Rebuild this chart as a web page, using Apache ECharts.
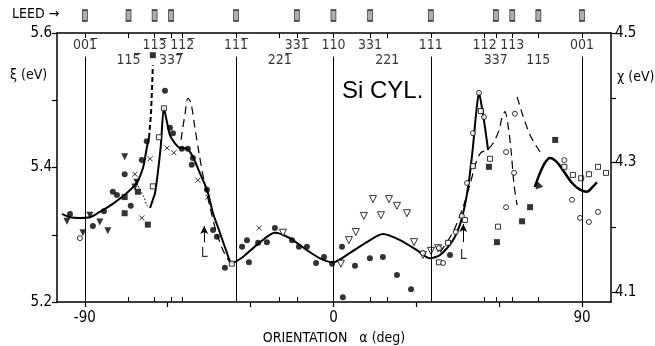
<!DOCTYPE html>
<html>
<head>
<meta charset="utf-8">
<script src="https://cdn.jsdelivr.net/npm/echarts@6/dist/echarts.min.js"></script>
<style>
  html, body { margin: 0; padding: 0; background: #fff; }
  #chart { width: 655px; height: 346px; }
</style>
</head>
<body>
<div id="chart"></div>
<script>
// crystal directions in the zone, angle from [110] (deg)
const dirAngles = [-90, -74.2, -64.76, -58.8, -54.74, -35.26, -19.47, -13.26, 0, 13.26, 19.47, 35.26, 54.74, 58.8, 64.76, 74.2, 90]
const leedAngles = [-90, -74.2, -64.76, -58.8, -35.26, -13.26, 0, 13.26, 35.26, 58.8, 64.76, 74.2, 90]
const row1Angles = [-90, -64.76, -54.74, -35.26, -13.26, 0, 13.26, 35.26, 54.74, 64.76, 90]
const row1Names = ['001\u0305', '113\u0305', '112\u0305', '111\u0305', '331\u0305', '110', '331', '111', '112', '113', '001']
const row2Angles = [-74.2, -58.8, -19.47, 19.47, 58.8, 74.2]
const row2Names = ['115\u0305', '337\u0305', '221\u0305', '221', '337', '115']
const lineAngles = [-90, -35.26, 0, 35.26, 90]

const xTicks = [-90, -60, -30, 0, 30, 60, 90]
const xLabels = [-90, 0, 90]
const xiTicks = [5.2, 5.3, 5.4, 5.5, 5.6]
const xiLabels = [5.2, 5.4, 5.6]
const chiTicks = [4.1, 4.2, 4.3, 4.4, 4.5]
const chiLabels = [4.1, 4.3, 4.5]

// curves [angle, xi]
const curveLeft = [[-98.3, 5.331], [-95.4, 5.326], [-91.8, 5.325], [-88.2, 5.326], [-84.6, 5.334], [-79.9, 5.346], [-74.8, 5.362], [-71.2, 5.378], [-69.0, 5.399], [-67.6, 5.429], [-66.8, 5.444]]
const curveLeftDash = [[-66.8, 5.444], [-66.1, 5.478], [-65.7, 5.515], [-65.4, 5.552]]
const curveDotted = [[-71.2, 5.377], [-70.0, 5.367], [-68.5, 5.355], [-67.6, 5.344], [-66.4, 5.340]]
const curveMain = [[-66.4, 5.340], [-65.4, 5.352], [-64.6, 5.362], [-63.6, 5.392], [-62.5, 5.433], [-61.4, 5.488], [-60.3, 5.468], [-59.2, 5.448], [-57.4, 5.436], [-55.6, 5.429], [-53.1, 5.428], [-50.9, 5.416], [-48.4, 5.392], [-45.8, 5.367], [-43.6, 5.332], [-41.1, 5.303], [-38.9, 5.277], [-36.8, 5.258], [-32.8, 5.267], [-27.7, 5.285], [-21.2, 5.303], [-15.8, 5.295], [-9.6, 5.277], [-4.9, 5.265], [-0.2, 5.259], [6.0, 5.273], [12.1, 5.289], [17.9, 5.301], [24.1, 5.292], [30.2, 5.277], [34.9, 5.265], [38.6, 5.270], [43.3, 5.292], [45.8, 5.315], [47.6, 5.344], [49.1, 5.381], [50.5, 5.430], [51.6, 5.478], [52.7, 5.511], [53.8, 5.488], [54.9, 5.459], [56.0, 5.426]]
const curveRight = [[72.9, 5.371], [74.8, 5.392], [76.6, 5.407], [78.4, 5.414], [80.9, 5.408], [83.1, 5.396], [86.4, 5.377], [89.3, 5.367], [91.8, 5.364], [93.6, 5.370], [95.4, 5.378]]
const dashL = [[-55.2, 5.441], [-53.7, 5.481], [-52.7, 5.503], [-51.6, 5.496], [-50.2, 5.460], [-48.7, 5.422], [-46.9, 5.381], [-44.7, 5.341], [-42.6, 5.307], [-40.0, 5.277], [-37.5, 5.259]]
const dashR = [[38.6, 5.274], [43.3, 5.304], [46.9, 5.341], [49.4, 5.374], [51.6, 5.407], [53.4, 5.422], [55.6, 5.426], [57.8, 5.436], [60.0, 5.456], [61.0, 5.474], [62.1, 5.483], [63.2, 5.463], [64.3, 5.426], [65.4, 5.374], [66.5, 5.344]]
const dashR2 = [[66.5, 5.505], [68.6, 5.477], [71.2, 5.448], [74.8, 5.423]]

// measured points [angle, xi]
const ptsFilledCircle = [[-95.4, 5.331], [-87.1, 5.313], [-83.1, 5.335], [-79.9, 5.364], [-78.4, 5.359], [-75.6, 5.390], [-73.4, 5.343], [-69.4, 5.411], [-67.6, 5.439], [-61.0, 5.514], [-59.2, 5.459], [-58.1, 5.451], [-54.9, 5.428], [-52.7, 5.428], [-50.9, 5.414], [-51.3, 5.404], [-45.8, 5.367], [-43.6, 5.307], [-42.2, 5.297], [-39.3, 5.251], [-33.1, 5.282], [-31.3, 5.292], [-30.6, 5.259], [-27.3, 5.288], [-24.1, 5.289], [-21.2, 5.310], [-15.0, 5.292], [-12.5, 5.282], [-9.6, 5.282], [-6.3, 5.258], [-3.4, 5.267], [-0.5, 5.257], [3.1, 5.282], [3.4, 5.207], [7.8, 5.254], [13.2, 5.265], [17.9, 5.267], [23.0, 5.240], [28.1, 5.219], [42.2, 5.270]]
const ptsFilledSquare = [[-65.4, 5.567], [-75.6, 5.356], [-75.6, 5.332], [-70.8, 5.364], [-67.2, 5.315], [56.3, 5.401], [59.2, 5.289], [68.3, 5.320], [71.2, 5.341], [80.3, 5.441]]
const ptsFilledTri = [[-96.5, 5.320], [-90.7, 5.303], [-88.2, 5.329], [-84.6, 5.319], [-81.7, 5.306], [-75.6, 5.416], [-71.9, 5.371], [-71.2, 5.378]]
const ptsCross = [[-71.9, 5.390], [-69.4, 5.325], [-66.4, 5.413], [-60.3, 5.429], [-57.8, 5.422], [-49.1, 5.381], [-45.5, 5.356], [-26.9, 5.310]]
const ptsOpenTri = [[-18.3, 5.303], [2.7, 5.257], [5.6, 5.292], [8.1, 5.304], [11.0, 5.328], [14.3, 5.353], [17.2, 5.329], [20.1, 5.353], [23.0, 5.343], [26.6, 5.332], [29.2, 5.289], [32.4, 5.270], [35.3, 5.276], [37.9, 5.280]]
const ptsOpenSquare = [[-36.8, 5.257], [-65.4, 5.372], [-63.2, 5.445], [-61.4, 5.488], [38.2, 5.259], [41.5, 5.288], [47.6, 5.322], [50.5, 5.402], [53.4, 5.484], [56.7, 5.413], [59.6, 5.312], [83.6, 5.401], [86.7, 5.389], [89.7, 5.384], [92.5, 5.390], [95.8, 5.401], [98.7, 5.392]]
const ptsOpenCircle = [[-91.8, 5.295], [32.4, 5.273], [38.2, 5.280], [39.7, 5.258], [44.3, 5.304], [46.5, 5.328], [48.4, 5.377], [50.5, 5.451], [52.7, 5.511], [54.5, 5.475], [62.5, 5.423], [62.5, 5.341], [65.7, 5.480], [65.4, 5.392], [83.6, 5.411], [86.4, 5.352], [89.3, 5.325], [92.5, 5.319], [95.8, 5.334]]
const ptsCurveStart = [[74.1, 5.375]]

const FONT = '"DejaVu Sans Condensed", "Liberation Sans Narrow", sans-serif'
const X_MIN = -100.1
const X_MAX = 100.5

const chart = echarts.init(document.getElementById('chart'), null, { renderer: 'canvas' })

function curve(data, width, type, smooth) {
  return {
    type: 'line', data: data, showSymbol: false, smooth: smooth === undefined ? 0.3 : smooth,
    lineStyle: { color: '#000', width: width, type: type }, silent: true, z: 3
  }
}

function marks(data, symbol, size, filled, rotate) {
  return {
    type: 'scatter', data: data, symbol: symbol, symbolSize: size, symbolRotate: rotate || 0,
    itemStyle: filled ? { color: '#000' } : { color: '#fff', borderColor: '#000', borderWidth: 1 },
    silent: true, z: 4
  }
}

function textSeries(angles, names, yVal, size) {
  return {
    type: 'scatter', symbolSize: 0, silent: true, z: 5,
    data: angles.map((a, i) => ({ value: [a, yVal], name: names[i] })),
    label: { show: true, position: 'inside', formatter: p => p.name, color: '#000', fontSize: size, fontFamily: FONT }
  }
}

chart.setOption({
  backgroundColor: '#fff',
  animation: false,
  grid: [
    { left: 57, right: 44, top: 33, bottom: 44, outerBoundsMode: 'none', containLabel: false },
    { left: 57, right: 44, top: 9, height: 13, outerBoundsMode: 'none', containLabel: false }
  ],
  xAxis: [
    {
      gridIndex: 0, type: 'value', position: 'bottom', min: X_MIN, max: X_MAX,
      axisLine: { onZero: false, lineStyle: { color: '#000', width: 1.5 } },
      axisTick: { customValues: xTicks, length: 5, lineStyle: { color: '#000', width: 1.2 } },
      axisLabel: { customValues: xLabels, color: '#000', fontSize: 15, fontFamily: FONT, margin: 9 },
      splitLine: { show: false },
      name: 'ORIENTATION   \u03b1 (deg)', nameLocation: 'middle', nameGap: 28,
      nameTextStyle: { color: '#000', fontSize: 14, fontFamily: FONT }
    },
    {
      gridIndex: 0, type: 'value', position: 'top', min: X_MIN, max: X_MAX,
      axisLine: { onZero: false, lineStyle: { color: '#000', width: 1.5 } },
      axisTick: { inside: true, customValues: dirAngles, length: 5, lineStyle: { color: '#000', width: 1 } },
      axisLabel: { show: false }, splitLine: { show: false }
    },
    {
      gridIndex: 0, type: 'value', position: 'bottom', min: X_MIN, max: X_MAX,
      axisLine: { show: false },
      axisTick: { inside: true, customValues: dirAngles, length: 5, lineStyle: { color: '#000', width: 1 } },
      axisLabel: { show: false }, splitLine: { show: false }
    },
    {
      gridIndex: 1, type: 'value', min: X_MIN, max: X_MAX, show: false
    }
  ],
  yAxis: [
    {
      gridIndex: 0, type: 'value', position: 'left', min: 5.2, max: 5.6,
      axisLine: { show: true, onZero: false, lineStyle: { color: '#000', width: 1.5 } },
      axisTick: { show: true, customValues: xiTicks, length: 5, lineStyle: { color: '#000', width: 1.2 } },
      axisLabel: { customValues: xiLabels, formatter: v => v.toFixed(1), color: '#000', fontSize: 15, fontFamily: FONT, margin: 5 },
      splitLine: { show: false }
    },
    {
      gridIndex: 0, type: 'value', position: 'right', min: 4.0846, max: 4.5,
      axisLine: { show: true, onZero: false, lineStyle: { color: '#000', width: 1.5 } },
      axisTick: { show: true, customValues: chiTicks, length: 5, lineStyle: { color: '#000', width: 1.2 } },
      axisLabel: { customValues: chiLabels, formatter: v => v.toFixed(1), color: '#000', fontSize: 15, fontFamily: FONT, margin: 4 },
      splitLine: { show: false }
    },
    { gridIndex: 1, type: 'value', min: 0, max: 1, show: false }
  ],
  graphic: [
    { type: 'text', left: 12, top: 7, style: { text: 'LEED \u2192', fill: '#000', font: '14px ' + FONT } },
    { type: 'text', left: 342, top: 79, style: { text: 'Si CYL.', fill: '#000', font: '24px "Liberation Sans", sans-serif' } },
    { type: 'text', left: 10, top: 68, style: { text: '\u03be (eV)', fill: '#000', font: '14px ' + FONT } },
    { type: 'text', left: 617, top: 70, style: { text: '\u03c7 (eV)', fill: '#000', font: '14px ' + FONT } }
  ],
  series: [
    // vertical guide lines at main directions
    {
      type: 'line', data: [], silent: true,
      markLine: {
        silent: true, symbol: 'none', label: { show: false },
        lineStyle: { color: '#000', width: 1, type: 'solid' },
        data: lineAngles.map(a => [{ coord: [a, 5.565] }, { coord: [a, 5.2] }])
      }
    },
    curve(curveLeft, 2, 'solid'),
    curve(curveLeftDash, 2, [5, 3], 0),
    curve(curveDotted, 1, [1.5, 2]),
    curve(curveMain, 2, 'solid', 0.25),
    curve(curveRight, 2.5, 'solid'),
    curve(dashL, 1.2, [8, 5], 0.3),
    curve(dashR, 1.2, [8, 5], 0.3),
    curve(dashR2, 1.2, [8, 5], 0.2),
    marks(ptsFilledCircle, 'circle', 6, true),
    marks(ptsFilledSquare, 'rect', 6, true),
    marks(ptsFilledTri, 'triangle', 7, true, 180),
    marks(ptsCurveStart, 'triangle', 8, true, 20),
    {
      type: 'scatter', data: ptsCross, symbol: 'path://M0,0L10,10M10,0L0,10', symbolSize: 5,
      itemStyle: { color: 'none', borderColor: '#000', borderWidth: 1 }, silent: true, z: 4
    },
    marks(ptsOpenTri, 'triangle', 7, false, 180),
    marks(ptsOpenSquare, 'rect', 5, false),
    marks(ptsOpenCircle, 'circle', 5, false),
    textSeries(row1Angles, row1Names, 5.582, 14),
    textSeries(row2Angles, row2Names, 5.559, 14),
    // "L" marks with arrows
    {
      type: 'scatter', symbolSize: 0, silent: true, z: 5,
      data: [{ value: [-46.8, 5.272], name: 'L' }, { value: [47.0, 5.270], name: 'L' }],
      label: { show: true, position: 'inside', formatter: p => p.name, color: '#000', fontSize: 14, fontFamily: FONT },
      markLine: {
        silent: true, symbol: ['none', 'arrow'], symbolSize: [6, 8], label: { show: false },
        lineStyle: { color: '#000', width: 1, type: 'solid' },
        data: [
          [{ coord: [-46.8, 5.289] }, { coord: [-46.8, 5.313] }],
          [{ coord: [47.0, 5.289] }, { coord: [47.0, 5.316] }]
        ]
      }
    },
    // LEED markers
    {
      type: 'scatter', xAxisIndex: 3, yAxisIndex: 2, silent: true,
      data: leedAngles.map(a => [a, 0.5]), symbol: 'rect', symbolSize: [5, 11],
      itemStyle: { color: '#9a9a9a', borderColor: '#000', borderWidth: 1 }
    }
  ]
})
</script>
</body>
</html>
